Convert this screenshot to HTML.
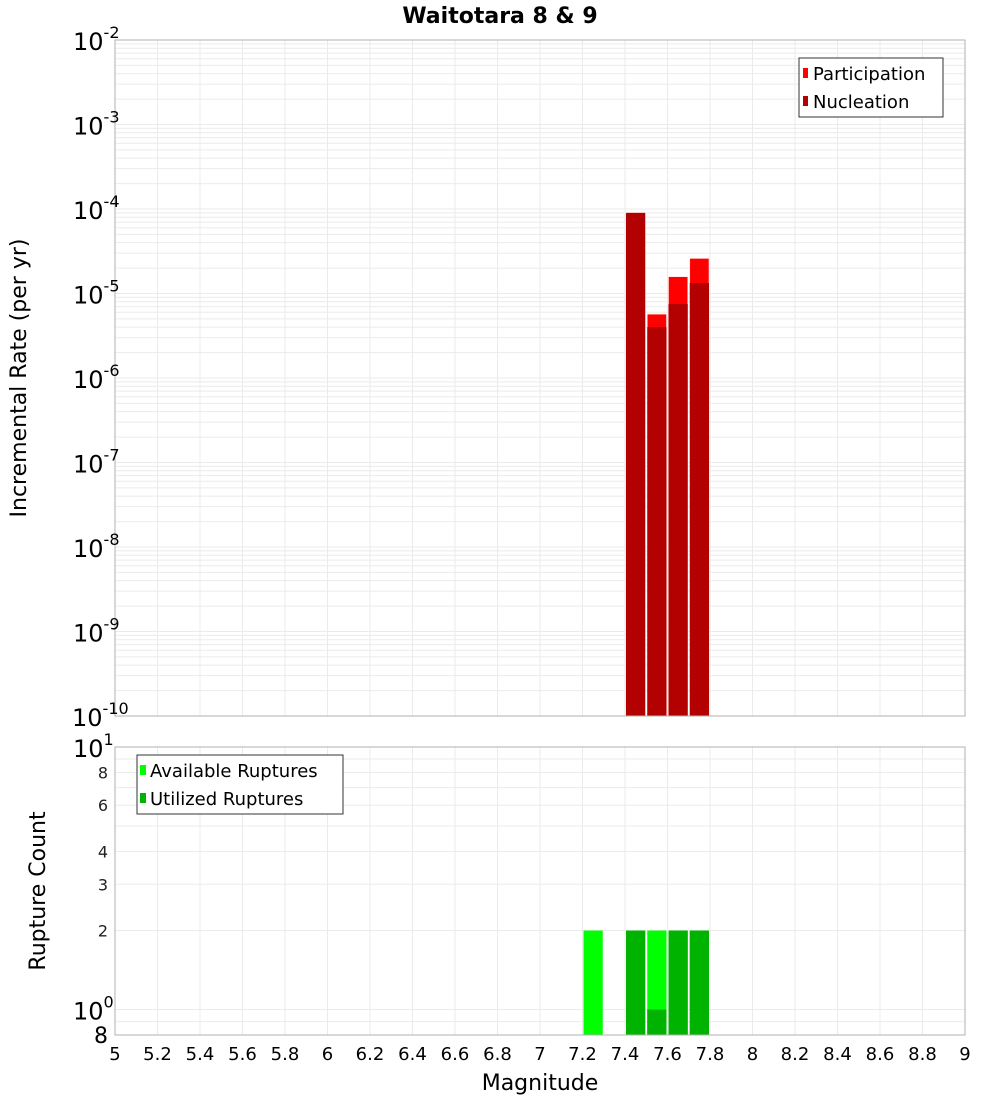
<!DOCTYPE html>
<html><head><meta charset="utf-8"><style>
body{margin:0;background:#fff;}
svg{display:block;font-family:"DejaVu Sans","Liberation Sans",sans-serif;}
</style></head><body>
<svg id="c" width="1000" height="1100"></svg>
<script>
const mags=[7.45,7.55,7.65,7.75];
const participation=[9e-5,5.7e-6,1.58e-5,2.6e-5];
const nucleation=[9e-5,4e-6,7.5e-6,1.33e-5];
const availMags=[7.25,7.45,7.55,7.65,7.75];
const available=[2,2,2,2,2];
const utilized=[0,2,1,2,2];
const xTicks=[5,5.2,5.4,5.6,5.8,6,6.2,6.4,6.6,6.8,7,7.2,7.4,7.6,7.8,8,8.2,8.4,8.6,8.8,9];
const topExps=[-2,-3,-4,-5,-6,-7,-8,-9,-10];
const botTicks=[2,3,4,6,8];
const NS='http://www.w3.org/2000/svg';
const svg=document.getElementById('c');
function el(t,a,txt){const e=document.createElementNS(NS,t);for(const k in a)e.setAttribute(k,a[k]);if(txt!==undefined)e.textContent=txt;svg.appendChild(e);return e;}
const X0=115,X1=965;
const x=m=>X0+(m-5)/4*(X1-X0);
const T0=40,T1=716;
const yT=v=>T0+(-2-Math.log10(v))/8*(T1-T0);
const B0=747,B1=1035;
const yB=v=>B0+(1-Math.log10(v))/(1-Math.log10(0.8))*(B1-B0);
const bw=(x(5.1)-x(5))-2;
// grids
for(const t of xTicks){
  let g=el('line',{x1:x(t),x2:x(t),y1:T0,y2:T1,stroke:'#ebebeb'});
  g=el('line',{x1:x(t),x2:x(t),y1:B0,y2:B1,stroke:'#ebebeb'});
}
for(let e=-10;e<-2;e++)for(let k=1;k<10;k++){const v=k*Math.pow(10,e);
  const g=el('line',{x1:X0,x2:X1,y1:yT(v),y2:yT(v),stroke:'#ebebeb'});}
for(const v of [0.8,0.9,1,2,3,4,5,6,7,8,9]){
  const g=el('line',{x1:X0,x2:X1,y1:yB(v),y2:yB(v),stroke:'#ebebeb'});}
// top bars
mags.forEach((m,i)=>{
  let r=el('rect',{x:x(m)-bw/2,y:yT(participation[i]),width:bw,height:T1-yT(participation[i]),fill:'#ff0000',stroke:'#ffdede','stroke-width':0.6});
  
  r=el('rect',{x:x(m)-bw/2,y:yT(nucleation[i]),width:bw,height:T1-yT(nucleation[i]),fill:'#b30000'});
  
});
availMags.forEach((m,i)=>{
  let r=el('rect',{x:x(m)-bw/2,y:yB(available[i]),width:bw,height:B1-yB(available[i]),fill:'#00ff00'});
  
  if(utilized[i]>0){r=el('rect',{x:x(m)-bw/2,y:yB(utilized[i]),width:bw,height:B1-yB(utilized[i]),fill:'#00b300'});
  }
});
// frames
let f=el('rect',{x:X0,y:T0,width:X1-X0,height:T1-T0,fill:'none',stroke:'#b0b0b0'});
f=el('rect',{x:X0,y:B0,width:X1-X0,height:B1-B0,fill:'none',stroke:'#b0b0b0'});
// x labels
for(const t of xTicks){const l=el('text',{x:x(t),y:1060,'font-size':18,'text-anchor':'middle'},String(t));}
// top y labels
for(const e of topExps){const yy=yT(Math.pow(10,e));
  const l=el('text',{x:104,y:yy+10,'font-size':24,'text-anchor':'end'});
  
  const t1=document.createElementNS(NS,'tspan');t1.textContent='10';l.appendChild(t1);
  const t2=document.createElementNS(NS,'tspan');t2.setAttribute('dy','-12');t2.setAttribute('font-size','16');t2.textContent=String(e);l.appendChild(t2);
  l.setAttribute('text-anchor','start');l.setAttribute('x', e<=-10?72:73);
}
// bottom y labels
for(const v of botTicks){const l=el('text',{x:108,y:yB(v)+6,'font-size':16,'text-anchor':'end',fill:'#222'},String(v));}
for(const [v,e] of [[10,'1'],[1,'0']]){
  const l=el('text',{x:73,y:yB(v)+10,'font-size':24});
  
  const t1=document.createElementNS(NS,'tspan');t1.textContent='10';l.appendChild(t1);
  const t2=document.createElementNS(NS,'tspan');t2.setAttribute('dy','-12');t2.setAttribute('font-size','16');t2.textContent=e;l.appendChild(t2);
}
let l8=el('text',{x:108,y:1043,'font-size':22,'text-anchor':'end'},'8');
</script>
<svg style="position:absolute;left:0;top:0" width="1000" height="1100">
<text x="500" y="23" font-size="22" font-weight="bold" text-anchor="middle" font-family="DejaVu Sans,Liberation Sans,sans-serif">Waitotara 8 &amp; 9</text>
<text x="540" y="1090" font-size="22" text-anchor="middle" font-family="DejaVu Sans,Liberation Sans,sans-serif">Magnitude</text>
<text transform="translate(26,378) rotate(-90)" font-size="22" text-anchor="middle" font-family="DejaVu Sans,Liberation Sans,sans-serif">Incremental Rate (per yr)</text>
<text transform="translate(45,891) rotate(-90)" font-size="22" text-anchor="middle" font-family="DejaVu Sans,Liberation Sans,sans-serif">Rupture Count</text>
<g font-family="DejaVu Sans,Liberation Sans,sans-serif" font-size="18">
<rect x="799" y="58" width="144" height="59" fill="#fff" stroke="#333"/>
<rect x="803" y="68" width="5" height="10" fill="#ff0000"/>
<text x="813" y="80">Participation</text>
<rect x="803" y="96" width="5" height="10" fill="#b30000"/>
<text x="813" y="108">Nucleation</text>
</g>
<g font-family="DejaVu Sans,Liberation Sans,sans-serif" font-size="18">
<rect x="137" y="755" width="206" height="59" fill="#fff" stroke="#333"/>
<rect x="140" y="765" width="6" height="10" fill="#00ff00"/>
<text x="150" y="777">Available Ruptures</text>
<rect x="140" y="793" width="6" height="10" fill="#00b300"/>
<text x="150" y="805">Utilized Ruptures</text>
</g>
</svg>
</body></html>
